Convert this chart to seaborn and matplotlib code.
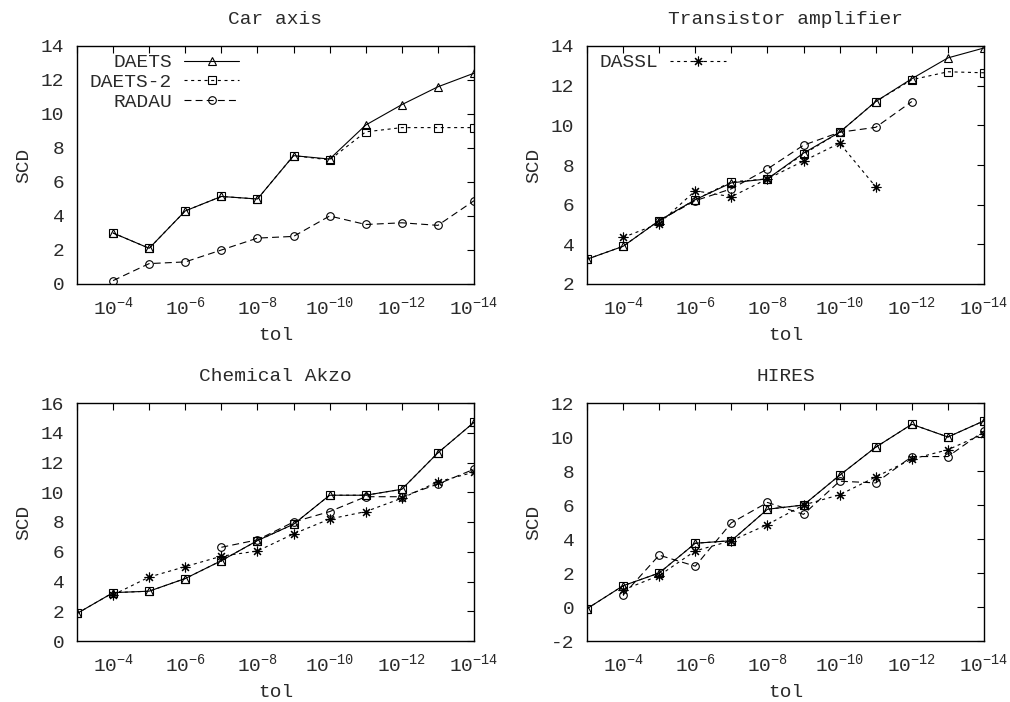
import numpy as np
import pandas as pd
import matplotlib
matplotlib.use("Agg")
import matplotlib.pyplot as plt
import seaborn as sns
from matplotlib.ticker import FixedLocator, FuncFormatter, NullLocator

# ---------------- data ----------------
tol_all = [1e-3, 1e-4, 1e-5, 1e-6, 1e-7, 1e-8, 1e-9, 1e-10, 1e-11, 1e-12, 1e-13, 1e-14]

# Car axis (tol 1e-4 .. 1e-14)
car_tol = [1e-4, 1e-5, 1e-6, 1e-7, 1e-8, 1e-9, 1e-10, 1e-11, 1e-12, 1e-13, 1e-14]
car_daets = [3.0, 2.1, 4.3, 5.15, 5.0, 7.55, 7.35, 9.35, 10.55, 11.6, 12.4]
car_daets2 = [3.0, 2.1, 4.3, 5.15, 5.0, 7.55, 7.3, 8.95, 9.2, 9.2, 9.2]
car_radau = [0.2, 1.2, 1.3, 2.0, 2.7, 2.8, 4.0, 3.5, 3.6, 3.45, 4.9]

# Transistor amplifier
tr_tol = [1e-3, 1e-4, 1e-5, 1e-6, 1e-7, 1e-8, 1e-9, 1e-10, 1e-11, 1e-12, 1e-13, 1e-14]
tr_daets = [3.25, 3.9, 5.2, 6.25, 7.1, 7.3, 8.6, 9.65, 11.2, 12.35, 13.4, 13.9]
tr_daets2 = [3.25, 3.9, 5.2, 6.25, 7.15, 7.3, 8.55, 9.65, 11.2, 12.3, 12.7, 12.65]
tr_radau_tol = [1e-5, 1e-6, 1e-7, 1e-8, 1e-9, 1e-10, 1e-11, 1e-12]
tr_radau = [5.2, 6.2, 6.8, 7.8, 9.0, 9.65, 9.9, 11.2]
tr_dassl_tol = [1e-4, 1e-5, 1e-6, 1e-7, 1e-8, 1e-9, 1e-10, 1e-11]
tr_dassl = [4.35, 5.05, 6.7, 6.4, 7.3, 8.2, 9.1, 6.9]

# Chemical Akzo
ak_tol = [1e-3, 1e-4, 1e-5, 1e-6, 1e-7, 1e-8, 1e-9, 1e-10, 1e-11, 1e-12, 1e-13, 1e-14]
ak_daets = [1.85, 3.25, 3.35, 4.2, 5.4, 6.75, 7.85, 9.8, 9.8, 10.2, 12.65, 14.7]
ak_daets2 = [1.85, 3.25, 3.35, 4.2, 5.4, 6.75, 7.85, 9.8, 9.8, 10.2, 12.65, 14.7]
ak_radau_tol = [1e-7, 1e-8, 1e-9, 1e-10, 1e-11, 1e-12, 1e-13, 1e-14]
ak_radau = [6.3, 6.8, 8.0, 8.7, 9.7, 9.7, 10.55, 11.55]
ak_dassl_tol = [1e-4, 1e-5, 1e-6, 1e-7, 1e-8, 1e-9, 1e-10, 1e-11, 1e-12, 1e-13, 1e-14]
ak_dassl = [3.1, 4.3, 5.0, 5.7, 6.05, 7.2, 8.2, 8.7, 9.6, 10.7, 11.35]

# HIRES
hi_tol = [1e-3, 1e-4, 1e-5, 1e-6, 1e-7, 1e-8, 1e-9, 1e-10, 1e-11, 1e-12, 1e-13, 1e-14]
hi_daets = [-0.1, 1.25, 2.0, 3.75, 3.9, 5.75, 6.0, 7.75, 9.4, 10.75, 10.0, 10.95]
hi_daets2 = [-0.1, 1.25, 2.0, 3.75, 3.9, 5.75, 6.0, 7.75, 9.4, 10.75, 10.0, 10.95]
hi_radau_tol = [1e-4, 1e-5, 1e-6, 1e-7, 1e-8, 1e-9, 1e-10, 1e-11, 1e-12, 1e-13, 1e-14]
hi_radau = [0.7, 3.05, 2.4, 4.95, 6.15, 5.45, 7.4, 7.3, 8.85, 8.85, 10.35]
hi_dassl_tol = [1e-4, 1e-5, 1e-6, 1e-7, 1e-8, 1e-9, 1e-10, 1e-11, 1e-12, 1e-13, 1e-14]
hi_dassl = [1.0, 1.85, 3.3, 3.9, 4.85, 6.0, 6.6, 7.65, 8.7, 9.25, 10.2]

titles = ["Car axis", "Transistor amplifier", "Chemical Akzo", "HIRES"]
ylims = [(0, 14), (2, 14), (0, 16), (-2, 12)]

# ---------------- style ----------------
sns.set_theme(style="white")
plt.rcParams["font.family"] = ["Liberation Mono", "DejaVu Sans Mono"]
plt.rcParams["mathtext.default"] = "regular"
plt.rcParams["lines.scale_dashes"] = False
plt.rcParams["axes.unicode_minus"] = False

FS = 14
TXT = "#2a2a2a"

styles = {
    "DAETS": dict(linestyle="-", marker="^"),
    "DAETS-2": dict(linestyle=(0, (2.2, 2.6)), marker="s"),
    "RADAU": dict(linestyle=(0, (5, 3)), marker="o"),
    "DASSL": dict(linestyle=(0, (2.2, 2.6)), marker=(8, 2, 0)),
}

fig = plt.figure(figsize=(10.1, 7.02), dpi=100)
W = 397 / 1010
H = 238 / 702
positions = [
    (77 / 1010, 1 - 284 / 702, W, H),
    (587 / 1010, 1 - 284 / 702, W, H),
    (77 / 1010, 1 - 641 / 702, W, H),
    (587 / 1010, 1 - 641 / 702, W, H),
]

panels = [
    [("DAETS", car_tol, car_daets), ("DAETS-2", car_tol, car_daets2), ("RADAU", car_tol, car_radau)],
    [("DAETS", tr_tol, tr_daets), ("DAETS-2", tr_tol, tr_daets2), ("RADAU", tr_radau_tol, tr_radau),
     ("DASSL", tr_dassl_tol, tr_dassl)],
    [("DAETS", ak_tol, ak_daets), ("DAETS-2", ak_tol, ak_daets2), ("RADAU", ak_radau_tol, ak_radau),
     ("DASSL", ak_dassl_tol, ak_dassl)],
    [("DAETS", hi_tol, hi_daets), ("DAETS-2", hi_tol, hi_daets2), ("RADAU", hi_radau_tol, hi_radau),
     ("DASSL", hi_dassl_tol, hi_dassl)],
]


def fmt(v, pos):
    e = int(round(np.log10(v)))
    if e % 2 == 0:
        return "10$^{%d}$" % e
    return ""


for i, (pos, series) in enumerate(zip(positions, panels)):
    ax = fig.add_axes(pos)
    for name, tx, ty in series:
        df = pd.DataFrame({"tol": tx, "SCD": ty})
        st = styles[name]
        ms = 7 if name == "DASSL" else 5.5
        sns.lineplot(data=df, x="tol", y="SCD", ax=ax, color="black", lw=0.8,
                     linestyle=st["linestyle"], marker=st["marker"], markersize=ms,
                     markerfacecolor="none", markeredgecolor="black", markeredgewidth=0.8,
                     label=name, sort=False, estimator=None)
    ax.set_xscale("log")
    ax.set_xlim(1e-3, 1e-14)
    ax.set_ylim(*ylims[i])
    ax.xaxis.set_major_locator(FixedLocator(tol_all))
    ax.xaxis.set_minor_locator(NullLocator())
    ax.xaxis.set_major_formatter(FuncFormatter(fmt))
    lo, hi = ylims[i]
    ax.set_yticks(np.arange(lo, hi + 0.1, 2))
    ax.tick_params(axis="both", which="major", direction="in", length=5, width=0.8,
                   top=True, right=True, colors="black", labelcolor=TXT, labelsize=FS)
    ax.tick_params(axis="x", pad=8.5)
    ax.tick_params(axis="y", pad=9)
    for sp in ax.spines.values():
        sp.set_color("black")
        sp.set_linewidth(1.0)
    ax.set_title(titles[i], fontsize=FS, color=TXT, pad=16)
    ax.set_ylabel("SCD", fontsize=FS, color=TXT, labelpad=6)
    ax.set_xlabel("tol", fontsize=FS, color=TXT, labelpad=6)

    handles, labels = ax.get_legend_handles_labels()
    if i == 0:
        keep = ["DAETS", "DAETS-2", "RADAU"]
    elif i == 1:
        keep = ["DASSL"]
    else:
        keep = []
    if keep:
        hl = [(h, l) for h, l in zip(handles, labels) if l in keep]
        leg = ax.legend([h for h, _ in hl], [l for _, l in hl], loc="upper left",
                        bbox_to_anchor=(0.0, 1.02), frameon=False, markerfirst=False,
                        fontsize=FS, handlelength=2.85, handletextpad=0.62,
                        labelspacing=0.1, borderaxespad=0.25, borderpad=0.4)
        for t in leg.get_texts():
            t.set_color(TXT)
    else:
        lg = ax.get_legend()
        if lg is not None:
            lg.remove()

fig.savefig("out.png", dpi=100)
